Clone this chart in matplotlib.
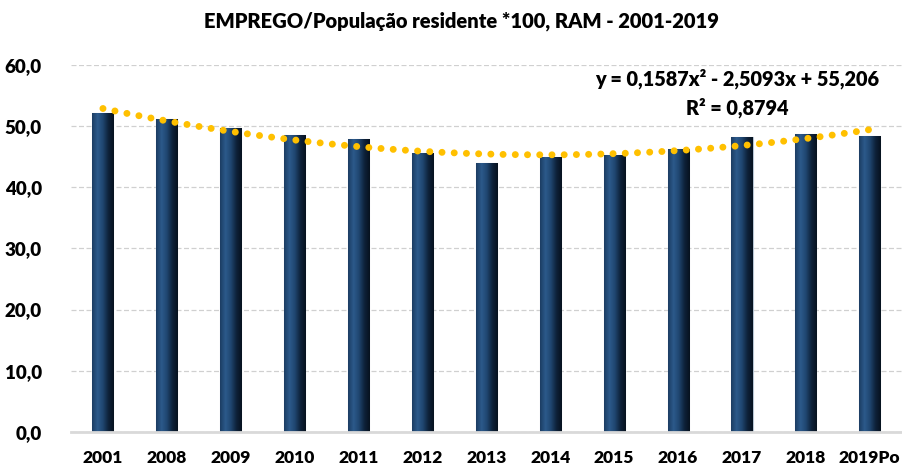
import matplotlib as mpl
import matplotlib.pyplot as plt
import numpy as np
from matplotlib.colors import LinearSegmentedColormap

# フォントの設定
mpl.rcParams['font.family'] = ['Lato', 'DejaVu Sans']
mpl.rcParams['font.weight'] = 'heavy'

# データの定義
anos = ['2001', '2008', '2009', '2010', '2011', '2012', '2013',
        '2014', '2015', '2016', '2017', '2018', '2019Po']
emprego = [52.2, 51.2, 49.6, 48.6, 47.8, 45.6, 43.9,
           44.9, 45.3, 46.3, 48.2, 48.7, 48.4]
yticks = [0, 10, 20, 30, 40, 50, 60]
ytick_labels = ['0,0', '10,0', '20,0', '30,0', '40,0', '50,0', '60,0']
# Excel trendline (polinomial, 2nd order) as printed on the chart
trend_coef = [0.1587, -2.5093, 55.206]
trend_txt = 'y = 0,1587x² - 2,5093x + 55,206\nR² = 0,8794'

fig = plt.figure(figsize=(9.03, 4.66), dpi=100)
ax = fig.add_axes([0.0786, 0.073, 0.92, 0.788])

pos = np.arange(len(anos))
bars = ax.bar(pos, emprego, width=0.33, color='#1f4670',
              edgecolor='#b8c6d4', linewidth=0.8, zorder=2)

# 棒のグラデーション
cmap = LinearSegmentedColormap.from_list(
    'navy', ['#1c3d63', '#2c5a8b', '#1f4670', '#0e223a', '#07121f'])
grad = np.linspace(0, 1, 64).reshape(1, -1)
for b in bars:
    x0, y0 = b.get_x(), b.get_y()
    im = ax.imshow(grad, cmap=cmap, aspect='auto', zorder=2.5,
                   extent=[x0, x0 + b.get_width(), y0, y0 + b.get_height()])
    im.set_clip_path(b)

# トレンドライン
xt = np.linspace(1, 13, 300)
yt = np.polyval(trend_coef, xt)
ax.plot(xt - 1, yt, color='#ffc000', linewidth=5,
        linestyle=(0, (0.01, 1.75)), dash_capstyle='round', zorder=4)

ax.set_xlim(-0.5, len(anos) - 0.5)
ax.set_ylim(0, 60)
ax.set_yticks(yticks)
ax.set_yticklabels(ytick_labels)
ax.set_xticks(pos)
ax.set_xticklabels(anos)
ax.tick_params(axis='y', length=0, pad=21, labelsize=13.5)
ax.tick_params(axis='x', length=0, pad=13, labelsize=12.5)

for s in ['top', 'right', 'left']:
    ax.spines[s].set_visible(False)
ax.spines['bottom'].set_color('#d9d9d9')
ax.spines['bottom'].set_linewidth(2)
ax.grid(axis='y', color='#d0d0d0', linestyle=(0, (4, 2)), linewidth=0.9, zorder=0)
ax.set_axisbelow(True)

fig.text(0.511, 0.955, 'EMPREGO/População residente *100, RAM - 2001-2019',
         ha='center', va='center', fontsize=14.5)
fig.text(0.816, 0.80, trend_txt, ha='center', va='center', fontsize=14.3,
         linespacing=1.45)

plt.savefig('out.png', dpi=100)
